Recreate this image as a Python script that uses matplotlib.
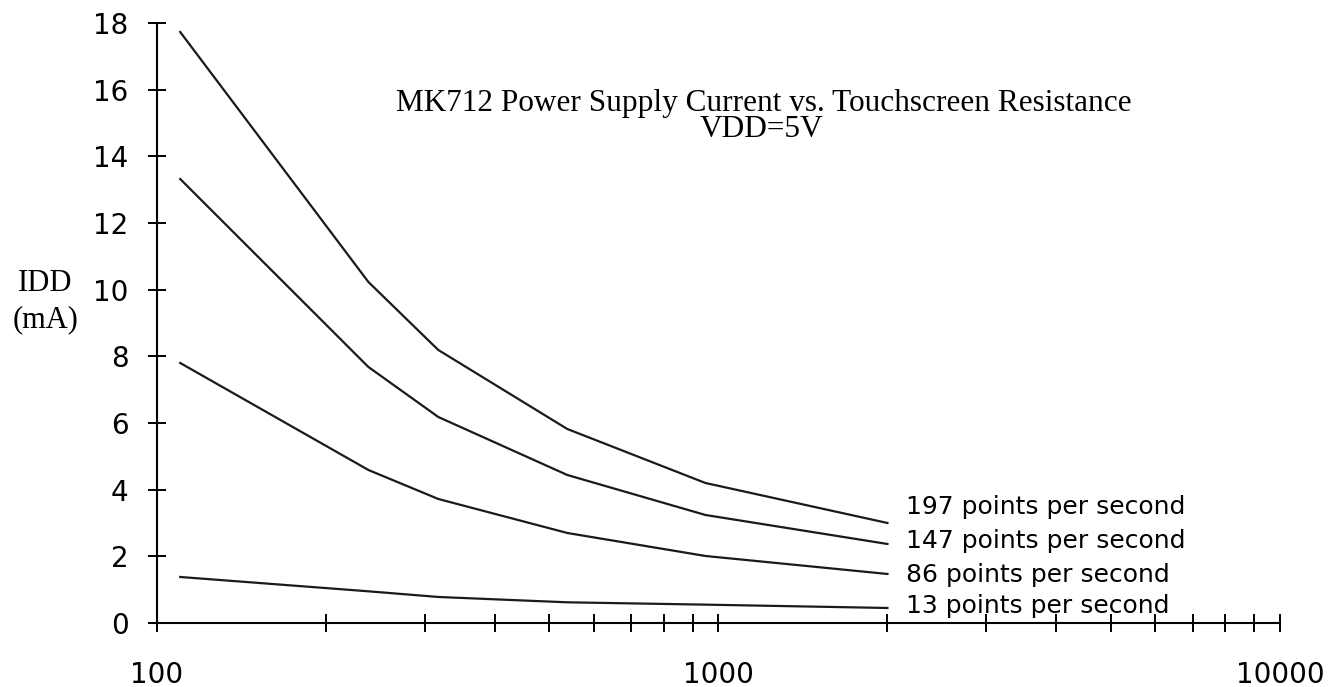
import matplotlib
matplotlib.use("Agg")
import matplotlib.pyplot as plt
from matplotlib.ticker import LogLocator, NullFormatter, FixedLocator, FixedFormatter

# touchscreen resistance (x) and supply current in mA (y)
resistance = [110, 238, 317, 538, 948, 2000]
idd_197 = [17.73, 10.23, 8.19, 5.82, 4.20, 3.00]
idd_147 = [13.32, 7.68, 6.18, 4.44, 3.24, 2.37]
idd_86 = [7.80, 4.59, 3.72, 2.70, 2.01, 1.47]
idd_13 = [1.38, 0.95, 0.78, 0.62, 0.55, 0.45]

series = [idd_197, idd_147, idd_86, idd_13]
names = ["197 points per second", "147 points per second",
         "86 points per second", "13 points per second"]
label_y = [3.48, 2.46, 1.44, 0.51]

y_ticks = [0, 2, 4, 6, 8, 10, 12, 14, 16, 18]
x_ticks = [100, 1000, 10000]

fig = plt.figure(figsize=(13.36, 6.87), dpi=100)
ax = fig.add_axes([0.1175, 0.0932, 0.8405, 0.8733])

for y in series:
    ax.plot(resistance, y, color="#1a1a1a", lw=1.6)

for name, ly in zip(names, label_y):
    ax.annotate(name, xy=(2000, ly), xytext=(13, 0), textcoords="offset points",
                fontsize=18, va="center", ha="left", family="DejaVu Sans")

ax.set_xscale("log")
ax.set_xlim(100, 10000)
ax.set_ylim(0, 18)
ax.xaxis.set_major_locator(FixedLocator(x_ticks))
ax.xaxis.set_major_formatter(FixedFormatter([str(v) for v in x_ticks]))
ax.xaxis.set_minor_locator(LogLocator(base=10, subs=range(2, 10)))
ax.xaxis.set_minor_formatter(NullFormatter())
ax.set_yticks(y_ticks)

for s in ["top", "right"]:
    ax.spines[s].set_visible(False)
ax.spines["left"].set_linewidth(1.5)
ax.spines["bottom"].set_linewidth(1.5)
ax.spines["bottom"].set_bounds(97, 10000)

ax.tick_params(axis="x", which="both", direction="inout", length=13, width=1.4,
               pad=21, labelsize=20)
ax.tick_params(axis="y", direction="inout", length=13, width=1.4, pad=14, labelsize=20)
for lab in ax.get_xticklabels() + ax.get_yticklabels():
    lab.set_family("DejaVu Sans")

fig.text(0.572, 0.850, "MK712 Power Supply Current vs. Touchscreen Resistance",
         ha="center", va="center", fontsize=22.5, family="Liberation Serif")
fig.text(0.570, 0.811, "VDD=5V",
         ha="center", va="center", fontsize=22.5, family="Liberation Serif")
fig.text(0.034, 0.587, "IDD", ha="center", va="center", fontsize=22,
         family="Liberation Serif")
fig.text(0.034, 0.535, "(mA)", ha="center", va="center", fontsize=22,
         family="Liberation Serif")

fig.savefig("out.png", dpi=100)
